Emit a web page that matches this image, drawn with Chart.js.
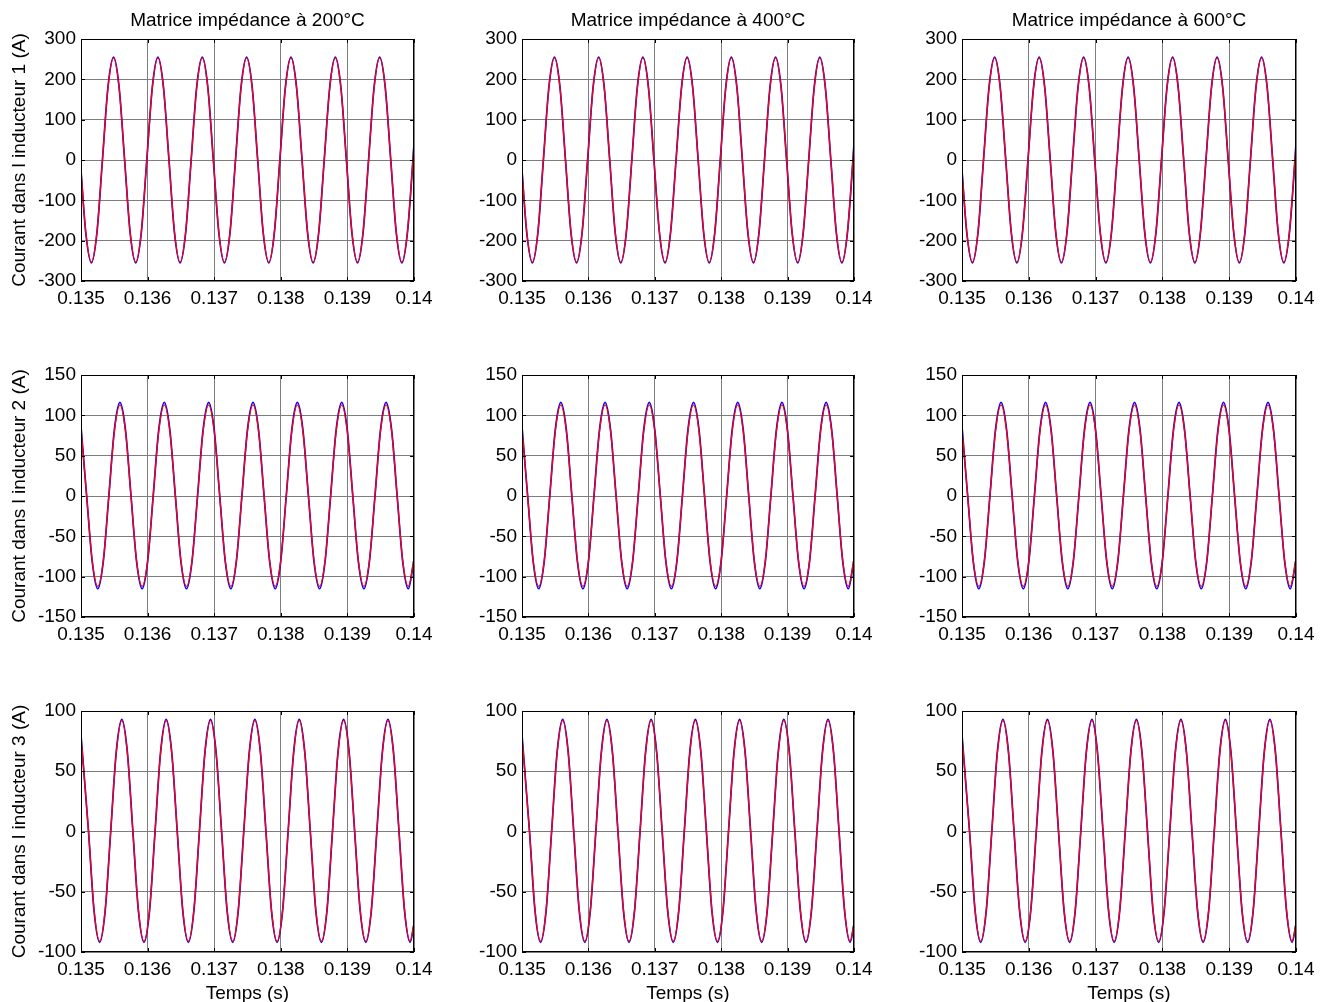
<!DOCTYPE html>
<html lang="fr">
<head>
<meta charset="UTF-8">
<title>Courants dans les inducteurs</title>
<script src="https://cdn.jsdelivr.net/npm/chart.js"></script>
<style>
    body { margin: 0; background: #fff; }
    #figure { position: relative; width: 1327px; height: 1002px; overflow: hidden; background: #fff; }
    #figure canvas { position: absolute; }
</style>
</head>
<body>
<div id="figure"></div>

<script>
    // ---- valeurs ----
    var titresColonnes = ["Matrice impédance à 200°C", "Matrice impédance à 400°C", "Matrice impédance à 600°C"];
    var titresLignes = ["Courant dans l inducteur 1 (A)", "Courant dans l inducteur 2 (A)", "Courant dans l inducteur 3 (A)"];
    var titreTemps = "Temps (s)";

    var ticksTemps = [0.135, 0.136, 0.137, 0.138, 0.139, 0.14];
    var labelsTemps = ["0.135", "0.136", "0.137", "0.138", "0.139", "0.14"];

    var ticksCourant1 = [-300, -200, -100, 0, 100, 200, 300];
    var labelsCourant1 = ["-300", "-200", "-100", "0", "100", "200", "300"];
    var ticksCourant2 = [-150, -100, -50, 0, 50, 100, 150];
    var labelsCourant2 = ["-150", "-100", "-50", "0", "50", "100", "150"];
    var ticksCourant3 = [-100, -50, 0, 50, 100];
    var labelsCourant3 = ["-100", "-50", "0", "50", "100"];

    // inducteur 1
    var temps1 = [0.135000,
        0.135072, 0.135156, 0.135239, 0.135322, 0.135405, 0.135489, 0.135572,
        0.135655, 0.135738, 0.135822, 0.135905, 0.135988, 0.136071, 0.136155, 0.136238,
        0.136321, 0.136404, 0.136488, 0.136571, 0.136654, 0.136737, 0.136821, 0.136904,
        0.136987, 0.137070, 0.137154, 0.137237, 0.137320, 0.137403, 0.137487, 0.137570,
        0.137653, 0.137736, 0.137820, 0.137903, 0.137986, 0.138069, 0.138153, 0.138236,
        0.138319, 0.138402, 0.138486, 0.138569, 0.138652, 0.138735, 0.138819, 0.138902,
        0.138985, 0.139068, 0.139152, 0.139235, 0.139318, 0.139401, 0.139485, 0.139568,
        0.139651, 0.139734, 0.139818, 0.139901, 0.139984,
        0.140000];
    var courantBleu1 = [-27,
        -181, -255, -181, 0, 181, 255, 181,
        0, -181, -255, -181, 0, 181, 255, 181,
        0, -181, -255, -181, 0, 181, 255, 181,
        0, -181, -255, -181, 0, 181, 255, 181,
        0, -181, -255, -181, 0, 181, 255, 181,
        0, -181, -255, -181, 0, 181, 255, 181,
        0, -181, -255, -181, 0, 181, 255, 181,
        0, -181, -255, -181, 0,
        40];
    var courantRouge1 = [-27,
        -179, -253, -179, 0, 179, 253, 179,
        0, -179, -253, -179, 0, 179, 253, 179,
        0, -179, -253, -179, 0, 179, 253, 179,
        0, -179, -253, -179, 0, 179, 253, 179,
        0, -179, -253, -179, 0, 179, 253, 179,
        0, -179, -253, -179, 0, 179, 253, 179,
        0, -179, -253, -179, 0, 179, 253, 179,
        0, -179, -253, -179, 0,
        40];

    // inducteur 2
    var temps2 = [0.135000,
        0.135085, 0.135168, 0.135252, 0.135335, 0.135418, 0.135501, 0.135585, 0.135668,
        0.135751, 0.135834, 0.135918, 0.136001, 0.136084, 0.136167, 0.136251, 0.136334,
        0.136417, 0.136500, 0.136584, 0.136667, 0.136750, 0.136833, 0.136917, 0.137000,
        0.137083, 0.137166, 0.137250, 0.137333, 0.137416, 0.137499, 0.137583, 0.137666,
        0.137749, 0.137832, 0.137916, 0.137999, 0.138082, 0.138165, 0.138249, 0.138332,
        0.138415, 0.138498, 0.138582, 0.138665, 0.138748, 0.138831, 0.138915, 0.138998,
        0.139081, 0.139164, 0.139248, 0.139331, 0.139414, 0.139497, 0.139581, 0.139664,
        0.139747, 0.139830, 0.139914,
        0.140000];
    var courantBleu2 = [86,
        0, -81, -115, -81, 0, 82, 116, 82,
        0, -81, -115, -81, 0, 82, 116, 82,
        0, -81, -115, -81, 0, 82, 116, 82,
        0, -81, -115, -81, 0, 82, 116, 82,
        0, -81, -115, -81, 0, 82, 116, 82,
        0, -81, -115, -81, 0, 82, 116, 82,
        0, -81, -115, -81, 0, 82, 116, 82,
        0, -81, -115,
        -79];
    var courantRouge2 = [84,
        0, -80, -112, -80, 0, 80, 113, 80,
        0, -80, -112, -80, 0, 80, 113, 80,
        0, -80, -112, -80, 0, 80, 113, 80,
        0, -80, -112, -80, 0, 80, 113, 80,
        0, -80, -112, -80, 0, 80, 113, 80,
        0, -80, -112, -80, 0, 80, 113, 80,
        0, -80, -112, -80, 0, 80, 113, 80,
        0, -80, -112,
        -78];

    // inducteur 3
    var temps3 = [0.135000,
        0.135113, 0.135196, 0.135280, 0.135363, 0.135446, 0.135529, 0.135613, 0.135696,
        0.135779, 0.135862, 0.135946, 0.136029, 0.136112, 0.136195, 0.136279, 0.136362,
        0.136445, 0.136528, 0.136612, 0.136695, 0.136778, 0.136861, 0.136945, 0.137028,
        0.137111, 0.137194, 0.137278, 0.137361, 0.137444, 0.137527, 0.137611, 0.137694,
        0.137777, 0.137860, 0.137944, 0.138027, 0.138110, 0.138193, 0.138277, 0.138360,
        0.138443, 0.138526, 0.138610, 0.138693, 0.138776, 0.138859, 0.138943, 0.139026,
        0.139109, 0.139192, 0.139276, 0.139359, 0.139442, 0.139525, 0.139609, 0.139692,
        0.139775, 0.139858, 0.139942,
        0.140000];
    var courantBleu3 = [80,
        0, -66, -92, -66, 0, 66, 93, 66,
        0, -66, -92, -66, 0, 66, 93, 66,
        0, -66, -92, -66, 0, 66, 93, 66,
        0, -66, -92, -66, 0, 66, 93, 66,
        0, -66, -92, -66, 0, 66, 93, 66,
        0, -66, -92, -66, 0, 66, 93, 66,
        0, -66, -92, -66, 0, 66, 93, 66,
        0, -66, -92,
        -77];
    var courantRouge3 = [79,
        0, -65, -91, -65, 0, 65, 92, 65,
        0, -65, -91, -65, 0, 65, 92, 65,
        0, -65, -91, -65, 0, 65, 92, 65,
        0, -65, -91, -65, 0, 65, 92, 65,
        0, -65, -91, -65, 0, 65, 92, 65,
        0, -65, -91, -65, 0, 65, 92, 65,
        0, -65, -91, -65, 0, 65, 92, 65,
        0, -65, -91,
        -76];

    var temps = [temps1, temps2, temps3];
    var courantsBleus = [courantBleu1, courantBleu2, courantBleu3];
    var courantsRouges = [courantRouge1, courantRouge2, courantRouge3];
    var ticksCourant = [ticksCourant1, ticksCourant2, ticksCourant3];
    var labelsCourant = [labelsCourant1, labelsCourant2, labelsCourant3];

    // ---- mise en page (zone des axes, px) ----
    var gauches = [81, 522, 962];
    var largeurs = [333, 332, 334];
    var hauts = [39, 375, 711];
    var hauteurs = [242, 242, 241];
    var margeG = 81, margeH = 39, margeB = 50, margeD = 30;

    var police = "'Liberation Sans', Arial, sans-serif";
    var couleurGrille = "#7d7d7d";

    // cadre noir + petites graduations vers l'intérieur, comme sous Matlab
    var cadreMatlab = {
        id: 'cadreMatlab',
        afterDraw: function (chart) {
            var ctx = chart.ctx;
            var a = chart.chartArea;
            var sx = chart.scales.x;
            var sy = chart.scales.y;
            var L = 4;
            ctx.save();
            ctx.strokeStyle = "#000";
            ctx.lineWidth = 1;
            ctx.beginPath();
            sx.ticks.forEach(function (t) {
                var px = Math.round(sx.getPixelForValue(t.value)) + 0.5;
                ctx.moveTo(px, a.bottom); ctx.lineTo(px, a.bottom - L);
                ctx.moveTo(px, a.top); ctx.lineTo(px, a.top + L);
            });
            sy.ticks.forEach(function (t) {
                var py = Math.round(sy.getPixelForValue(t.value)) + 0.5;
                ctx.moveTo(a.left, py); ctx.lineTo(a.left + L, py);
                ctx.moveTo(a.right, py); ctx.lineTo(a.right - L, py);
            });
            ctx.stroke();
            ctx.strokeRect(a.left + 0.5, a.top + 0.5, a.right - a.left - 1, a.bottom - a.top - 1);
            ctx.restore();
        }
    };

    function points(t, v) {
        var liste = [];
        for (var i = 0; i < t.length; i++) {
            liste.push({ x: t[i], y: v[i] });
        }
        return liste;
    }

    function tracer(ligne, col) {
        var canvas = document.createElement("canvas");
        var w = margeG + largeurs[col] + margeD;
        var h = margeH + hauteurs[ligne] + margeB;
        canvas.width = w;
        canvas.height = h;
        canvas.style.left = (gauches[col] - margeG) + "px";
        canvas.style.top = (hauts[ligne] - margeH) + "px";
        document.getElementById("figure").appendChild(canvas);

        var yTicks = ticksCourant[ligne];
        var yLabels = labelsCourant[ligne];

        new Chart(canvas, {
            type: "line",
            data: {
                datasets: [{
                    label: "bleu",
                    data: points(temps[ligne], courantsBleus[ligne]),
                    borderColor: "#0000ff",
                    borderWidth: 1.7,
                    order: 2
                }, {
                    label: "rouge",
                    data: points(temps[ligne], courantsRouges[ligne]),
                    borderColor: "#ff0000",
                    borderWidth: 1.3,
                    order: 1
                }]
            },
            options: {
                responsive: false,
                animation: false,
                devicePixelRatio: 1,
                events: [],
                elements: {
                    point: { radius: 0 },
                    line: { cubicInterpolationMode: "monotone", fill: false }
                },
                layout: {
                    padding: { left: 0, right: margeD, top: ligne == 0 ? 0 : margeH, bottom: 0 }
                },
                plugins: {
                    legend: { display: false },
                    tooltip: { enabled: false },
                    title: {
                        display: ligne == 0,
                        text: titresColonnes[col],
                        fullSize: false,
                        color: "#000",
                        font: { family: police, size: 19, weight: "normal", lineHeight: 1 },
                        padding: { top: 11, bottom: 9 }
                    }
                },
                scales: {
                    x: {
                        type: "linear",
                        min: 0.135,
                        max: 0.14,
                        afterBuildTicks: function (s) {
                            s.ticks = ticksTemps.map(function (v) { return { value: v }; });
                        },
                        afterFit: function (s) { s.height = margeB; },
                        ticks: {
                            callback: function (v, i) { return labelsTemps[i]; },
                            color: "#000",
                            font: { family: police, size: 19 },
                            padding: 6,
                            maxRotation: 0,
                            autoSkip: false
                        },
                        grid: { color: couleurGrille, lineWidth: 1, drawTicks: false },
                        border: { display: false },
                        title: {
                            display: ligne == 2,
                            text: titreTemps,
                            color: "#000",
                            font: { family: police, size: 19, lineHeight: 1 },
                            padding: { top: 0, bottom: -1 }
                        }
                    },
                    y: {
                        min: yTicks[0],
                        max: yTicks[yTicks.length - 1],
                        afterBuildTicks: function (s) {
                            s.ticks = yTicks.map(function (v) { return { value: v }; });
                        },
                        afterFit: function (s) { s.width = margeG; },
                        ticks: {
                            callback: function (v, i) { return yLabels[i]; },
                            color: "#000",
                            font: { family: police, size: 19 },
                            padding: 5,
                            autoSkip: false
                        },
                        grid: { color: couleurGrille, lineWidth: 1, drawTicks: false },
                        border: { display: false },
                        title: {
                            display: col == 0,
                            text: titresLignes[ligne],
                            color: "#000",
                            font: { family: police, size: 19, lineHeight: 1 },
                            padding: { top: 10, bottom: 0 }
                        }
                    }
                }
            },
            plugins: [cadreMatlab]
        });
    }

    for (var l = 0; l < 3; l++) {
        if (temps[l].length != courantsRouges[l].length || temps[l].length != courantsBleus[l].length) {
            console.log("longueurs differentes ligne " + (l + 1));
        }
        for (var c = 0; c < 3; c++) {
            tracer(l, c);
        }
    }
</script>
</body>
</html>
